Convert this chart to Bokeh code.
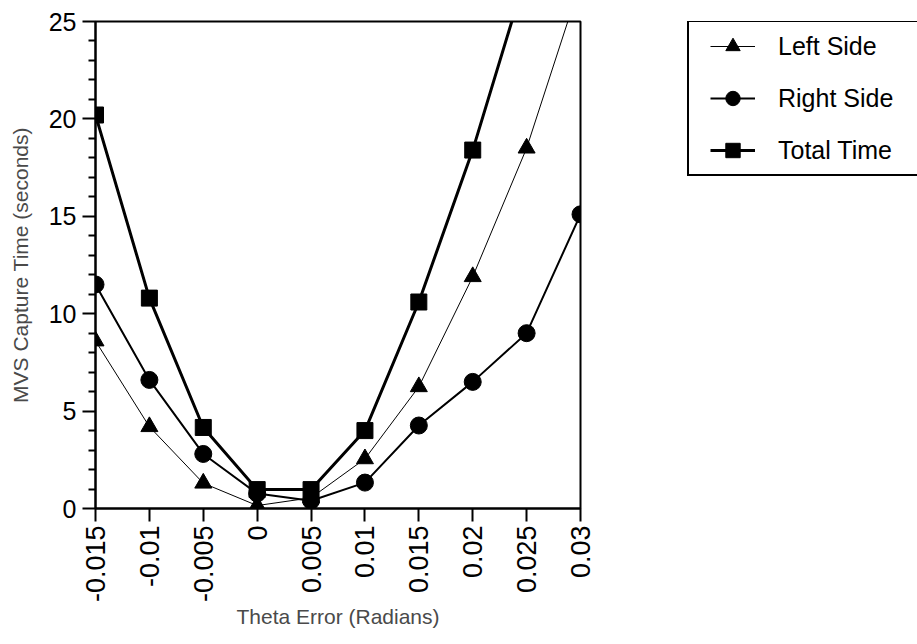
import math
from bokeh.plotting import figure
from bokeh.layouts import row
from bokeh.models import Legend, LegendItem, FixedTicker, Range1d
from bokeh.embed import file_html
from bokeh.resources import INLINE

theta = [-0.015, -0.01, -0.005, 0.0, 0.005, 0.01, 0.015, 0.02, 0.025, 0.03]
left_side = [8.6, 4.2, 1.3, 0.15, 0.55, 2.55, 6.25, 11.9, 18.5, 27.0]
right_side = [11.5, 6.6, 2.8, 0.77, 0.4, 1.33, 4.26, 6.5, 9.0, 15.1]
total_time = [20.2, 10.8, 4.16, 0.97, 0.97, 4.0, 10.6, 18.4, 27.5, 42.1]

x_ticks = [-0.015, -0.01, -0.005, 0.0, 0.005, 0.01, 0.015, 0.02, 0.025, 0.03]
x_labels = {-0.015: "-0.015", -0.01: "-0.01", -0.005: "-0.005", 0.0: "0",
            0.005: "0.005", 0.01: "0.01", 0.015: "0.015", 0.02: "0.02",
            0.025: "0.025", 0.03: "0.03"}
y_ticks = [0, 5, 10, 15, 20, 25]
y_minor = [i for i in range(0, 26) if i % 5 != 0]
series_names = ["Left Side", "Right Side", "Total Time"]

FONT = "Liberation Sans"

p = figure(width=600, height=644, output_backend="svg", toolbar_location=None,
           x_range=Range1d(-0.015, 0.03), y_range=Range1d(0, 25),
           min_border_left=95, min_border_top=21, min_border_right=20,
           min_border_bottom=136)
p.grid.visible = False
p.outline_line_color = "black"
p.outline_line_width = 2
p.background_fill_color = "white"
p.border_fill_color = "white"

styles = [("triangle", 1, 17), ("circle", 2, 17), ("square", 3, 16)]
series = [left_side, right_side, total_time]

for ys, (mk, lw, sz) in zip(series, styles):
    p.line(theta, ys, line_color="black", line_width=lw)
    p.scatter(theta, ys, marker=mk, size=sz, color="black")

xa = p.xaxis[0]
xa.ticker = FixedTicker(ticks=x_ticks)
xa.major_label_overrides = x_labels
xa.major_label_orientation = math.pi / 2
xa.axis_label = "Theta Error (Radians)"
ya = p.yaxis[0]
ya.ticker = FixedTicker(ticks=y_ticks, minor_ticks=y_minor)
ya.axis_label = "MVS Capture Time (seconds)"

for ax in (xa, ya):
    ax.axis_line_width = 2
    ax.axis_line_color = "black"
    ax.major_tick_line_width = 2
    ax.minor_tick_line_width = 2
    ax.major_tick_out = 13
    ax.major_tick_in = 0
    ax.minor_tick_out = 7
    ax.minor_tick_in = 0
    ax.major_label_text_font = FONT
    ax.major_label_text_color = "black"
    ax.axis_label_text_font = FONT
    ax.axis_label_text_font_size = "21px"
    ax.axis_label_text_font_style = "normal"
    ax.axis_label_text_color = "#4a4a4a"
xa.minor_tick_line_color = None
xa.major_label_text_font_size = "27px"
ya.major_label_text_font_size = "25px"
xa.major_label_standoff = 4
ya.major_label_standoff = 6
xa.axis_label_standoff = 0
ya.axis_label_standoff = 14

# Legend panel: a second canvas whose frame covers the area; its
# renderers use the same series but lie outside its ranges (not visible).
p2 = figure(width=317, height=644, output_backend="svg", toolbar_location=None,
            x_range=Range1d(1, 2), y_range=Range1d(100, 101),
            x_axis_type=None, y_axis_type=None,
            min_border_left=0, min_border_right=0, min_border_top=0,
            min_border_bottom=0)
p2.grid.visible = False
p2.outline_line_color = None
p2.background_fill_color = "white"
p2.border_fill_color = "white"

items = []
for name, ys, (mk, lw, sz) in zip(series_names, series, styles):
    rl = p2.line(theta, ys, line_color="black", line_width=lw)
    rm = p2.scatter(theta, ys, marker=mk, size=sz, color="black")
    items.append(LegendItem(label=name, renderers=[rl, rm]))

legend = Legend(items=items, location=(87, 332))
legend.label_text_font = FONT
legend.label_text_font_size = "25px"
legend.label_text_color = "black"
legend.glyph_width = 45
legend.glyph_height = 36
legend.label_height = 36
legend.label_width = 140
legend.spacing = 16
legend.padding = 6
legend.margin = 0
legend.label_standoff = 23
legend.border_line_color = "black"
legend.border_line_alpha = 1
legend.border_line_width = 2
legend.background_fill_alpha = 1
legend.title = " "
legend.title_location = "left"
legend.title_text_font_size = "1px"
legend.title_standoff = 14
p2.add_layout(legend, "center")

layout = row(p, p2)
open("out.html", "w").write(file_html(layout, INLINE))
